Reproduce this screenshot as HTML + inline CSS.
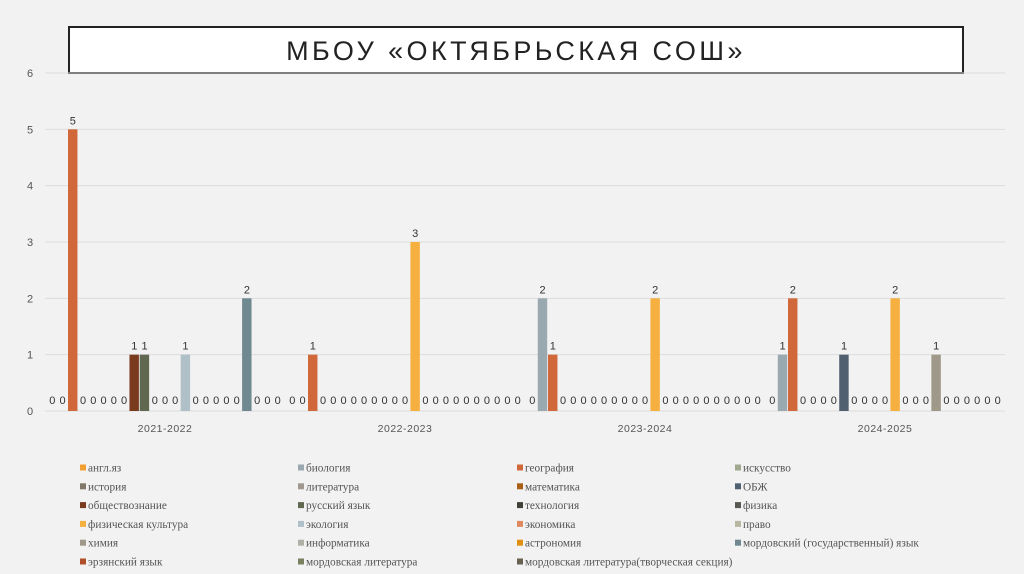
<!DOCTYPE html>
<html><head><meta charset="utf-8">
<style>
body{margin:0;background:#f2f2f2;width:1024px;height:574px;overflow:hidden;font-family:"Liberation Sans","DejaVu Sans",sans-serif;}
#title{position:absolute;left:68px;top:26px;width:892px;height:44px;border:2px solid #222;background:#fff;text-align:center;line-height:46px;font-size:27px;letter-spacing:3.4px;color:#222;}
svg{position:absolute;left:0;top:0}
</style></head><body>
<div id="title">МБОУ «ОКТЯБРЬСКАЯ СОШ»</div>
<svg id="c" width="1024" height="574"></svg>
<script>
const years=["2021-2022","2022-2023","2023-2024","2024-2025"];
const subjects=["англ.яз","биология","география","искусство","история","литература","математика","ОБЖ","обществознание","русский язык","технология","физика","физическая культура","экология","экономика","право","химия","информатика","астрономия","мордовский (государственный) язык","эрзянский язык","мордовская литература","мордовская литература(творческая секция)"];
const colors=["#f0a030","#9aa8b0","#d0683a","#a0a890","#807868","#a09890","#a86018","#506070","#7a3a1e","#606850","#404038","#585850","#f5b040","#b0c0c8","#e08860","#b8b8a0","#a09888","#b0b0a8","#e09010","#708890","#b05028","#788060","#686050"];
const v2021=[0,0,5,0,0,0,0,0,1,1,0,0,0,1,0,0,0,0,0,2,0,0,0];
const v2022=[0,0,1,0,0,0,0,0,0,0,0,0,3,0,0,0,0,0,0,0,0,0,0];
const v2023=[0,2,1,0,0,0,0,0,0,0,0,0,2,0,0,0,0,0,0,0,0,0,0];
const v2024=[0,1,2,0,0,0,0,1,0,0,0,0,2,0,0,0,1,0,0,0,0,0,0];
const values=[v2021,v2022,v2023,v2024];
const yTicks=[0,1,2,3,4,5,6];
const svg=document.getElementById('c');const NS='http://www.w3.org/2000/svg';
function mk(t,a,p){const e=document.createElementNS(NS,t);for(const k in a)e.setAttribute(k,a[k]);(p||svg).appendChild(e);return e;}
const L=45,R=1005,Y0=411,Ytop=73,ymax=6;
const y=v=>Y0-(Y0-Ytop)*v/ymax;
const gw=(R-L)/years.length,bw=10.24;
const bx=(g,i)=>L+g*gw+(gw-bw*subjects.length)/2+i*bw;
yTicks.forEach(t=>{
 const l=mk('line',{x1:L,x2:R,y1:y(t),y2:y(t),stroke:'#dcdcdc','stroke-width':1});
 
 const tx=mk('text',{x:30,y:y(t)+4,'text-anchor':'middle','font-size':11,fill:'#555'});tx.textContent=t;
 
});
years.forEach((yr,g)=>{
 values[g].forEach((v,i)=>{
  const x=bx(g,i);
  if(v>0){
   const r=mk('rect',{x:x+0.3,y:y(v),width:bw-0.8,height:Y0-y(v),fill:colors[i]});
   
   const t=mk('text',{x:x+bw/2,y:y(v)-5,'text-anchor':'middle','font-size':11,fill:'#333'});t.textContent=v;
   
  }else{
   const t=mk('text',{x:x+bw/2,y:Y0-7,'text-anchor':'middle','font-size':11,fill:'#333'});t.textContent=v;
   
  }
 });
 const t=mk('text',{x:L+g*gw+gw/2,y:432,'text-anchor':'middle','font-size':10.5,fill:'#555','letter-spacing':'0.5'});t.textContent=yr;
 
});
const lx=[80,298,517,735];
subjects.forEach((s,i)=>{
 const c=i%4,r=Math.floor(i/4);const x=lx[c],yy=468+r*18.8;
 const g=mk('g',{});
 
 mk('rect',{x:x,y:yy-3.5,width:6,height:6,fill:colors[i]},g);
 const t=mk('text',{x:x+8,y:yy+3.5,'font-size':11.3,fill:'#555','font-family':'"Liberation Serif",serif'},g);t.textContent=s;
});
</script>
</body></html>
